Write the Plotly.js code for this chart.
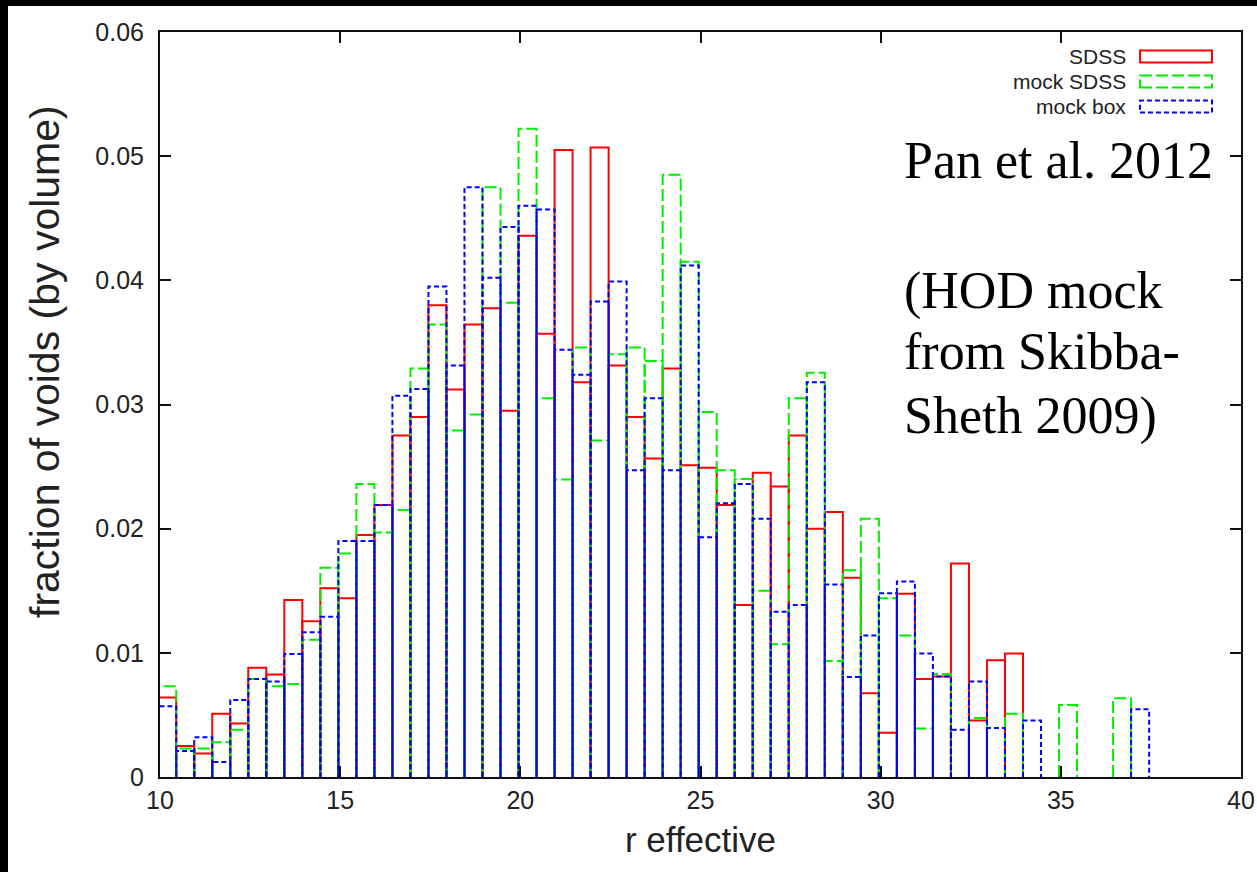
<!DOCTYPE html>
<html>
<head>
<meta charset="utf-8">
<script src="https://cdn.plot.ly/plotly-3.0.1.min.js"></script>
<style>
  html, body { margin: 0; padding: 0; background: #000; width: 1257px; height: 872px; overflow: hidden; }
  #chart { position: absolute; left: 8px; top: 6px; width: 1249px; height: 866px; background: #fff; }
</style>
</head>
<body>
<div id="chart"></div>
<script>
// bin centres (r effective), bin width 0.5
const binCenters = [10.2,10.7,11.2,11.7,12.2,12.7,13.2,13.7,14.2,14.7,
  15.2,15.7,16.2,16.7,17.2,17.7,18.2,18.7,19.2,19.7,
  20.2,20.7,21.2,21.7,22.2,22.7,23.2,23.7,24.2,24.7,
  25.2,25.7,26.2,26.7,27.2,27.7,28.2,28.7,29.2,29.7,
  30.2,30.7,31.2,31.7,32.2,32.7,33.2,33.7,34.2,34.7,
  35.2,35.7,36.2,36.7,37.2];
const binWidth = 0.5;

// fraction of voids (by volume)
const sdss = [0.0064,0.0025,0.0019,0.0051,0.0043,0.0088,0.00825,0.01425,0.01255,0.0152,
  0.0144,0.0195,0.0219,0.0275,0.0290,0.0380,0.0312,0.03645,0.03775,0.0295,
  0.0436,0.0357,0.0505,0.0318,0.0507,0.03315,0.0290,0.02565,0.0329,0.0251,
  0.0249,0.0219,0.01385,0.0245,0.0234,0.0275,0.0200,0.02135,0.01605,0.00675,
  0.00357,0.01475,0.0079,0.0081,0.0172,0.00455,0.0094,0.00995,0,0,
  0,0,0,0,0];
const mockSdss = [0.0073,0.0023,0.0023,0.0028,0.0038,0.0079,0.0073,0.0075,0.01105,0.01685,
  0.0180,0.0236,0.0197,0.0215,0.0329,0.03645,0.0279,0.0292,0.0475,0.0382,
  0.0522,0.0305,0.02395,0.0346,0.0271,0.03405,0.0346,0.0335,0.0485,0.0415,
  0.0294,0.0247,0.0240,0.0150,0.0107,0.0305,0.03255,0.00935,0.01665,0.0208,
  0.0144,0.0114,0.0039,0.0083,0,0.00475,0,0.0051,0,0,
  0.0058,0,0,0.00635,0];
const mockBox = [0.0057,0.0021,0.0032,0.0012,0.0062,0.0079,0.0077,0.0099,0.01165,0.0129,
  0.0190,0.0190,0.0219,0.0307,0.03125,0.0395,0.03315,0.0475,0.0402,0.0443,
  0.0460,0.0457,0.0344,0.0324,0.0383,0.0399,0.0247,0.0305,0.0247,0.0412,
  0.0193,0.02205,0.0236,0.0208,0.0133,0.01385,0.0318,0.0155,0.00805,0.0114,
  0.0148,0.01575,0.00995,0.0081,0.0038,0.0077,0.00395,0,0.00455,0,
  0,0,0,0,0.00545];

const seriesNames = ['SDSS', 'mock SDSS', 'mock box'];
const xTicks = [10, 15, 20, 25, 30, 35, 40];
const yTicks = [0, 0.01, 0.02, 0.03, 0.04, 0.05, 0.06];

// build box outlines (gnuplot "with boxes" look) from the data
function outline(vals) {
  const xs = [], ys = [];
  vals.forEach((v, i) => {
    if (v > 0) {
      const l = binCenters[i] - binWidth / 2, r = binCenters[i] + binWidth / 2;
      xs.push(l, l, r, r, null);
      ys.push(0, v, v, 0, null);
    }
  });
  return {xs, ys};
}

const styles = [
  {color: '#ff0000', dash: 'solid'},
  {color: '#00ee00', dash: '12px,4px'},
  {color: '#0000ff', dash: '5px,3px'}
];
const allSeries = [sdss, mockSdss, mockBox];

const traces = allSeries.map((vals, k) => {
  const o = outline(vals);
  return {
    x: o.xs, y: o.ys, type: 'scatter', mode: 'lines', name: seriesNames[k],
    connectgaps: false,
    line: {color: styles[k].color, width: 2, dash: styles[k].dash},
    hoverinfo: 'skip', showlegend: false
  };
});

// manual legend (text on the left, sample box on the right), positions in paper coords
const legY = [0.9672, 0.9336, 0.9000];
const shapes = [], annotations = [];
seriesNames.forEach((n, k) => {
  shapes.push({type: 'rect', xref: 'paper', yref: 'paper',
    x0: 0.9066, x1: 0.9732, y0: legY[k] - 0.0080, y1: legY[k] + 0.0080,
    line: {color: styles[k].color, width: 2, dash: styles[k].dash}, fillcolor: 'rgba(0,0,0,0)'});
  annotations.push({xref: 'paper', yref: 'paper', x: 0.8945, y: legY[k], xanchor: 'right', yanchor: 'middle',
    text: n, showarrow: false, borderpad: 0,
    font: {family: 'Liberation Sans, Arial, sans-serif', size: 21, color: '#222'}});
});

const noteLines = ['Pan et al. 2012', '(HOD mock', 'from Skibba-', 'Sheth 2009)'];
const noteY = [0.828, 0.652, 0.571, 0.485];
noteLines.forEach((t, i) => {
  annotations.push({xref: 'paper', yref: 'paper', x: 0.6864, y: noteY[i], xanchor: 'left', yanchor: 'middle',
    text: t, showarrow: false, font: {family: 'Liberation Serif, Times New Roman, serif', size: 52, color: '#000'}});
});

// y-axis title (placed as rotated text, as in the original it sits above centre)
annotations.push({xref: 'paper', yref: 'paper', x: -0.1064, y: 0.5584, xanchor: 'center', yanchor: 'middle',
  textangle: -90, text: 'fraction of voids (by volume)', showarrow: false,
  font: {family: 'Liberation Sans, Arial, sans-serif', size: 41, color: '#222'}});

const axisCommon = {
  showline: true, linecolor: '#111', linewidth: 2, mirror: 'ticks',
  ticks: 'inside', ticklen: 11, tickwidth: 2, tickcolor: '#111',
  showgrid: false, zeroline: false,
  tickfont: {family: 'Liberation Sans, Arial, sans-serif', size: 25, color: '#222'}
};

const layout = {
  width: 1249, height: 866,
  margin: {l: 152, r: 16, t: 26, b: 95},
  paper_bgcolor: '#fff', plot_bgcolor: '#fff',
  showlegend: false,
  xaxis: Object.assign({}, axisCommon, {
    range: [10, 40], tickvals: xTicks, ticktext: xTicks.map(String),
    title: {text: 'r effective', standoff: 14, font: {family: 'Liberation Sans, Arial, sans-serif', size: 35, color: '#222'}}
  }),
  yaxis: Object.assign({}, axisCommon, {
    range: [0, 0.06], tickvals: yTicks, ticktext: yTicks.map(v => String(v)),
    ticklabelstandoff: 9
  }),
  shapes: shapes,
  annotations: annotations
};

Plotly.newPlot('chart', traces, layout, {displayModeBar: false, staticPlot: true});
</script>
</body>
</html>
